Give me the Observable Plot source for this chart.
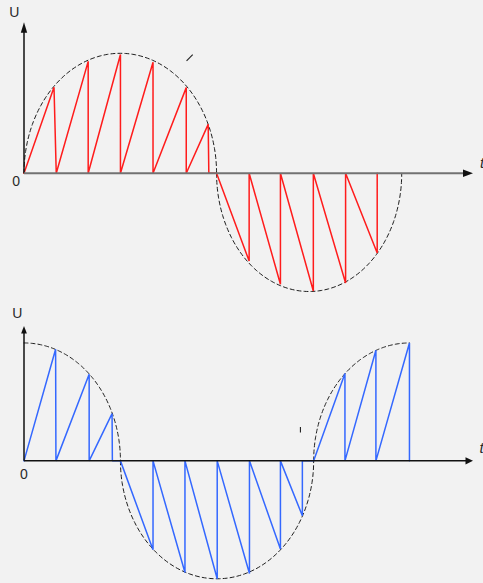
<!DOCTYPE html>
<html>
<head>
<meta charset="utf-8">
<script src="https://cdn.jsdelivr.net/npm/d3@7"></script>
<script src="https://cdn.jsdelivr.net/npm/@observablehq/plot@0.6"></script>
<style>
  html, body { margin: 0; padding: 0; background: #f2f2f2; }
  #chart { width: 483px; height: 583px; overflow: hidden; }
  #chart svg { display: block; background: #f2f2f2; max-width: none; }
</style>
</head>
<body>
<div id="chart"></div>
<script>
// Time in sawtooth periods, voltage normalised to the envelope peak.
const tMax = 13.92;
const axisLabels = ["U", "0", "t"];

// Upper panel: red sawtooth vertices [t, U]
const redSaw = [
  [0, 0], [0.93, 0.717], [1.0, 0],
  [1.99, 0.933], [1.99, 0],
  [2.99, 0.99], [2.99, 0],
  [4.0, 0.925], [4.0, 0],
  [5.03, 0.714], [5.03, 0],
  [5.71, 0.408], [5.73, 0], [5.97, 0],
  [6.98, -0.731], [6.98, 0],
  [7.95, -0.925], [7.95, 0],
  [8.97, -0.981], [8.97, 0],
  [9.97, -0.914], [9.97, 0],
  [10.95, -0.664], [10.95, 0]
];
// Upper panel envelope: elliptic arcs (from, to, centre, half-width, amplitude)
const redArcs = [
  {from: 0, to: 5.97, center: 2.985, half: 2.985, amp: 1.0},
  {from: 5.97, to: 11.71, center: 8.84, half: 2.87, amp: -0.985}
];
const redStray = [{t1: 5.04, u1: 0.936, t2: 5.23, u2: 0.989}];

// Lower panel: blue sawtooth vertices [t, U]
const blueSaw = [
  [0, 0], [0.98, 0.947], [0.99, 0],
  [2.02, 0.735], [2.02, 0],
  [2.73, 0.40], [2.74, 0], [2.99, 0],
  [4.0, -0.754], [4.0, 0],
  [4.99, -0.947], [4.99, 0],
  [5.99, -1.0], [5.99, 0],
  [6.99, -0.955], [6.99, 0],
  [7.95, -0.748], [7.95, 0],
  [8.63, -0.466], [8.63, 0], [8.98, 0],
  [9.95, 0.74], [9.95, 0],
  [10.91, 0.938], [10.91, 0],
  [11.95, 1.0], [11.95, 0]
];
const blueArcs = [
  {from: 0, to: 2.99, center: 0, half: 2.99, amp: 1.0},
  {from: 2.99, to: 8.98, center: 5.985, half: 2.995, amp: -1.0},
  {from: 8.98, to: 11.95, center: 11.95, half: 2.97, amp: 1.0}
];
const blueStray = [{t1: 8.57, u1: 0.288, t2: 8.57, u2: 0.240}];

// points along one elliptic arc of the envelope
function arcPoints(a, i) {
  const th0 = Math.acos(Math.max(-1, Math.min(1, (a.from - a.center) / a.half)));
  const th1 = Math.acos(Math.max(-1, Math.min(1, (a.to - a.center) / a.half)));
  return d3.range(0, 121).map(k => {
    const th = th0 + (th1 - th0) * k / 120;
    return {t: a.center + a.half * Math.cos(th), U: a.amp * Math.sin(th), arc: i};
  });
}

// filled arrowheads with the tip at the symbol origin
const headRight = (len, hw) => ({draw(ctx) { ctx.moveTo(0, 0); ctx.lineTo(-len, -hw); ctx.lineTo(-len, hw); ctx.closePath(); }});
const headUp = (len, hw) => ({draw(ctx) { ctx.moveTo(0, 0); ctx.lineTo(-hw, len); ctx.lineTo(hw, len); ctx.closePath(); }});

const font = "'Liberation Sans', Arial, sans-serif";

function panel(o) {
  const env = o.arcs.flatMap(arcPoints);
  const yAxis = [{t1: 0, u1: 0, t2: 0, u2: o.axisTop - 0.03}];
  const xAxis = [{t1: 0, u1: 0, t2: tMax - 0.15, u2: 0}];
  const label = {x: "t", y: "U", fill: "#2a2a2a", fontSize: 14, fontFamily: font};
  return Plot.plot({
    width: 483, height: o.height,
    marginLeft: 23.5, marginRight: 10.5, marginTop: 0, marginBottom: 0,
    x: {domain: [0, tMax], axis: null},
    y: {domain: o.yDomain, axis: null},
    style: {background: "#f2f2f2", fontFamily: font, fontSize: "14px", color: "#222", overflow: "visible"},
    marks: [
      Plot.line(env, {x: "t", y: "U", z: "arc", stroke: "#1e1e1e", strokeWidth: 1, strokeDasharray: "4,3"}),
      Plot.line(o.saw, {x: d => d[0], y: d => d[1], stroke: o.color, strokeWidth: 1.5, strokeLinejoin: "miter"}),
      Plot.link(o.stray, {x1: "t1", y1: "u1", x2: "t2", y2: "u2", stroke: "#222", strokeWidth: 1.1}),
      Plot.link(yAxis, {x1: "t1", y1: "u1", x2: "t2", y2: "u2", stroke: "#111", strokeWidth: 1.5}),
      Plot.link(xAxis, {x1: "t1", y1: "u1", x2: "t2", y2: "u2", stroke: o.xAxisColor, strokeWidth: o.xAxisWidth}),
      Plot.dot([{t: 0, U: o.axisTop}], {x: "t", y: "U", symbol: headUp(o.yHead[0], o.yHead[1]), fill: "#111", stroke: "none"}),
      Plot.dot([{t: tMax, U: 0}], {x: "t", y: "U", symbol: headRight(o.xHead[0], o.xHead[1]), fill: "#111", stroke: "none"}),
      Plot.text([{t: 0, U: o.axisTop}], {...label, text: () => axisLabels[0], dx: o.uOff[0], dy: o.uOff[1]}),
      Plot.text([{t: 0, U: 0}], {...label, text: () => axisLabels[1], dx: o.zeroOff[0], dy: o.zeroOff[1]}),
      Plot.text([{t: tMax, U: 0}], {...label, text: () => axisLabels[2], dx: o.tOff[0], dy: o.tOff[1], fontStyle: "italic", fontSize: 15})
    ]
  });
}

const chart = document.getElementById("chart");
chart.append(panel({
  height: 300, yDomain: [-1.06, 1.44], saw: redSaw, color: "#ff1c1c", arcs: redArcs, stray: redStray,
  axisTop: 1.258, xAxisColor: "#727272", xAxisWidth: 2,
  xHead: [10, 3.7], yHead: [10.5, 3.2],
  uOff: [-9.7, -9.7], zeroOff: [-7.8, 7.8], tOff: [9, -10]
}));
chart.append(panel({
  height: 283, yDomain: [-1.04, 1.36], saw: blueSaw, color: "#3468ff", arcs: blueArcs, stray: blueStray,
  axisTop: 1.144, xAxisColor: "#111", xAxisWidth: 1.5,
  xHead: [7.5, 3.7], yHead: [7.5, 2.9],
  uOff: [-6.7, -12], zeroOff: [0, 14], tOff: [8.5, -12.5]
}));
</script>
</body>
</html>
